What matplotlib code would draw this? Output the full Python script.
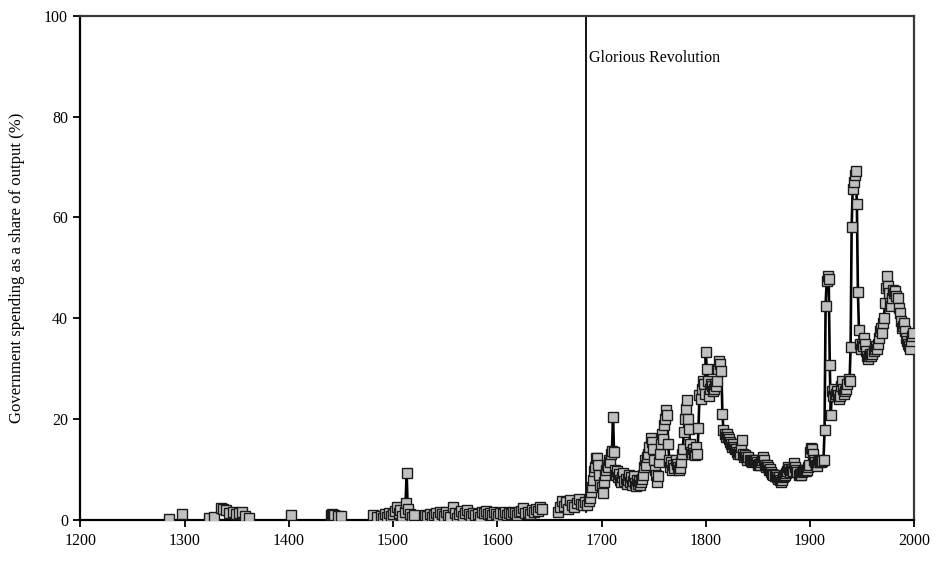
"""Government spending as a share of output, England/UK, 1285-2000."""

import numpy as np
import matplotlib
matplotlib.use("Agg")
import matplotlib.pyplot as plt

nan = np.nan

# medieval / early modern observations (NaN = gap in the series)
early_years = [1285, nan, 1297, nan,
               1323, 1328, 1335, 1337, 1340, 1343, 1346, 1349, 1352, 1355, 1358, 1362, nan,
               1402, nan,
               1440, 1441, 1442, 1443, 1447, 1450, nan,
               1481, 1485, 1488, 1490, 1492, 1494, 1496, 1498, 1500, 1502, 1504, 1506,
               1507, 1509, 1511, 1512, 1513, 1514, 1516, 1518, 1520, nan]
early_vals = [0.3, nan, 1.2, nan,
              0.5, 0.7, 2.4, 2.2, 1.9, 1.3, 1.6, 1.1, 1.3, 1.5, 0.8, 0.4, nan,
              1.0, nan,
              1.0, 1.1, 1.0, 1.0, 0.9, 0.9, nan,
              1.0, 0.6, 0.9, 0.5, 1.2, 0.7, 1.4, 0.8, 1.1, 1.8, 2.6, 1.3,
              2.0, 0.8, 1.6, 3.4, 9.4, 2.2, 1.2, 0.6, 1.0, nan]

# 1531-1643, roughly every other year
tudor_years = [1531, 1533, 1535, 1537, 1539, 1541, 1543, 1545, 1547, 1549,
               1551, 1553, 1555, 1557, 1559, 1561, 1563, 1565, 1567, 1569,
               1571, 1573, 1575, 1577, 1579, 1581, 1583, 1585, 1587, 1589,
               1591, 1593, 1595, 1597, 1599, 1601, 1603, 1605, 1607, 1609,
               1611, 1613, 1615, 1617, 1619, 1621, 1623, 1625, 1627, 1629,
               1631, 1633, 1635, 1637, 1639, 1641, 1643, nan]
tudor_vals = [1.0, 0.8, 1.2, 0.7, 1.0, 1.3, 0.6, 1.5, 1.1, 0.8,
              1.6, 1.0, 0.7, 2.6, 1.4, 0.5, 1.2, 1.8, 0.9, 1.3,
              2.0, 1.1, 0.8, 1.4, 1.0, 1.2, 0.7, 1.5, 1.3, 1.8,
              1.1, 1.4, 1.0, 1.6, 1.2, 0.9, 1.3, 1.1, 1.5, 1.0,
              1.4, 1.2, 1.6, 1.3, 1.0, 1.5, 1.8, 2.4, 1.4, 1.6,
              1.2, 1.9, 1.5, 2.1, 1.7, 2.6, 2.2, nan]

# 1658-1686
restoration_years = [1658, 1660, 1662, 1664, 1666, 1668, 1670, 1672, 1674,
                     1676, 1678, 1680, 1682, 1684, 1686]
restoration_vals = [1.5, 2.5, 3.8, 2.8, 3.5, 2.2, 3.9, 3.0, 2.5,
                    3.3, 4.1, 3.2, 2.9, 3.6, 3.0]

# annual, 1688-1999
modern_start = 1688
modern_vals = [
    3.8, 4.4,                                                   # 1688-89
    5.5, 6.5, 8.0, 9.7, 10.5, 12.3, 12.4, 11.0, 9.0, 7.0,       # 1690s
    6.5, 5.3, 7.5, 9.0, 10.0, 11.0, 10.5, 12.0, 11.5, 13.0,     # 1700s
    13.6, 20.4, 13.5, 10.0, 9.0, 9.8, 8.5, 9.2, 8.0, 7.5,       # 1710s
    8.5, 9.3, 7.8, 8.2, 7.2, 8.0, 9.0, 7.5, 8.5, 7.0,           # 1720s
    7.8, 8.8, 7.4, 6.8, 8.0, 7.2, 7.8, 6.9, 7.5, 8.2,           # 1730s
    9.0, 10.5, 12.0, 11.0, 12.5, 13.0, 14.5, 16.3, 15.5, 14.0,  # 1740s
    12.0, 10.0, 9.0, 7.6, 8.8, 11.5, 13.0, 15.0, 17.0, 16.0,    # 1750s
    18.8, 20.0, 21.9, 20.9, 15.0, 12.0, 10.5, 11.5, 10.0, 11.0, # 1760s
    10.3, 12.0, 11.2, 10.5, 10.0, 10.3, 11.5, 13.0, 14.0, 17.5, # 1770s
    20.0, 22.0, 23.8, 20.0, 18.0, 15.0, 13.5, 13.0, 14.0, 13.2, # 1780s
    12.9, 14.5, 13.0, 18.2, 24.8, 24.0, 26.0, 27.5, 27.0, 25.0, # 1790s
    33.3, 30.0, 27.5, 24.5, 26.0, 27.0, 26.5, 25.5, 26.0, 27.0, # 1800s
    26.5, 27.5, 30.0, 31.5, 31.0, 29.5, 21.0, 17.8, 17.0, 16.5, # 1810s
    17.0, 16.5, 16.0, 15.5, 15.0, 14.5, 15.0, 14.5, 14.0, 14.0, # 1820s
    13.5, 13.0, 13.5, 13.0, 14.5, 15.9, 13.0, 12.5, 12.8, 12.5, # 1830s
    12.0, 12.5, 12.0, 11.8, 11.5, 11.8, 12.0, 11.8, 12.0, 11.5, # 1840s
    11.0, 11.2, 11.0, 11.5, 12.0, 12.5, 12.0, 11.0, 10.5, 11.0, # 1850s
    10.5, 10.0, 10.2, 9.5, 9.2, 9.0, 8.8, 9.0, 8.5, 8.2,        # 1860s
    8.5, 7.9, 7.6, 8.0, 8.5, 8.8, 9.0, 9.3, 9.8, 10.5,          # 1870s
    10.2, 9.5, 10.0, 10.2, 9.8, 11.3, 10.5, 10.0, 9.5, 9.0,     # 1880s
    9.2, 9.0, 9.5, 9.8, 10.0, 10.0, 9.8, 10.0, 10.5, 11.0,      # 1890s
    13.5, 14.2, 14.0, 13.0, 12.0, 11.5, 11.0, 10.8, 11.5, 12.0, # 1900s
    11.8, 11.5, 11.8, 12.0, 17.8, 42.5, 47.3, 48.3, 47.8, 30.8, # 1910s
    20.8, 25.5, 24.5, 26.0, 24.5, 25.0, 25.5, 24.8, 24.0, 24.5, # 1920s
    26.5, 27.5, 26.0, 25.0, 25.5, 26.0, 27.0, 28.0, 27.5, 34.4, # 1930s
    58.1, 65.7, 67.0, 68.4, 69.3, 62.7, 45.3, 37.7, 35.0, 34.0, # 1940s
    35.0, 34.5, 36.0, 35.0, 33.5, 32.5, 32.0, 32.5, 33.0, 32.5, # 1950s
    33.0, 33.5, 34.0, 34.5, 34.0, 35.0, 36.0, 37.5, 38.0, 37.0, # 1960s
    39.0, 40.0, 43.0, 46.0, 48.3, 46.5, 45.0, 43.0, 42.5, 44.0, # 1970s
    45.6, 45.0, 45.5, 44.5, 44.0, 42.0, 41.0, 39.5, 38.0, 38.5, # 1980s
    39.0, 37.5, 36.0, 35.5, 35.0, 34.5, 34.0, 35.5, 36.5, 37.1, # 1990s
]
modern_years = list(range(modern_start, modern_start + len(modern_vals)))

revolution_year = 1685
revolution_label = "Glorious Revolution"

years = early_years + tudor_years + restoration_years + modern_years
vals = early_vals + tudor_vals + restoration_vals + modern_vals

plt.rcParams["font.family"] = ["Liberation Serif", "DejaVu Serif"]

fig = plt.figure(figsize=(9.41, 5.61), dpi=100)
ax = fig.add_axes([0.0855, 0.073, 0.886, 0.899])

ax.plot(years, vals, color="black", lw=1.9, marker="s", ms=7.0,
        mfc="#c0c0c0", mec="#1a1a1a", mew=1.0, zorder=3)

ax.plot([revolution_year, revolution_year], [1.5, 100], color="black", lw=1.3, zorder=2)
ax.text(revolution_year + 2.5, 91.7, revolution_label, fontsize=11.5,
        va="center", ha="left")

ax.set_xlim(1200, 2000)
ax.set_ylim(0, 100)
ax.set_xticks(range(1200, 2001, 100))
ax.set_yticks(range(0, 101, 20))
ax.tick_params(direction="out", length=5, width=1.3, labelsize=11.5,
               top=False, right=False, pad=4)
ax.set_ylabel("Government spending as a share of output (%)", fontsize=12, labelpad=14)

for side in ("left", "bottom"):
    ax.spines[side].set_linewidth(1.6)
    ax.spines[side].set_color("black")
for side in ("top", "right"):
    ax.spines[side].set_linewidth(1.6)
    ax.spines[side].set_color("#3a3a3a")

fig.savefig("out.png", dpi=100)
